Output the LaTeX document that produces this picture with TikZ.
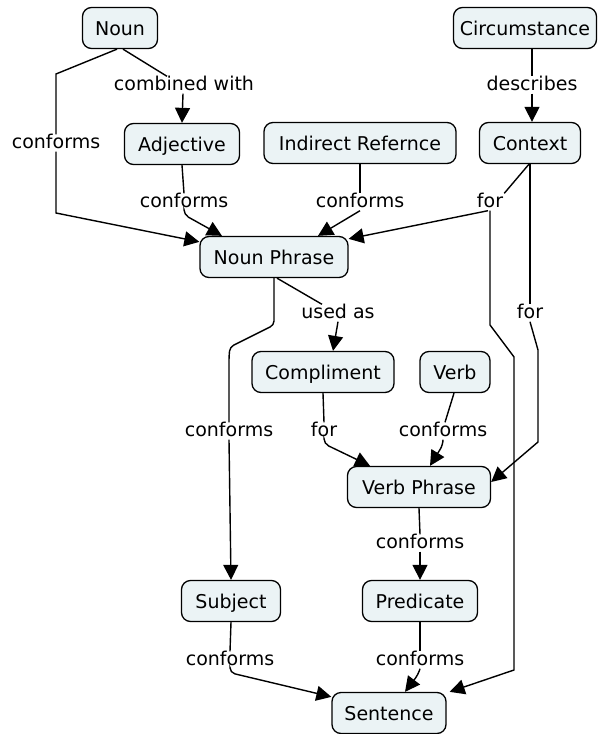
\documentclass[tikz,border=0pt]{standalone}
\usepackage{fontspec}
\setmainfont{DejaVu Sans}
\usetikzlibrary{arrows.meta}
\definecolor{cfill}{RGB}{235,243,245}
\begin{document}
\begin{tikzpicture}[x=1pt,y=-1pt,
  concept/.style={draw=black, line width=1.3pt, fill=cfill, rounded corners=9pt,
    minimum height=41pt, inner sep=0pt, text height=15pt, text depth=0pt,
    font=\fontsize{19}{22}\selectfont},
  lab/.style={fill=white, inner sep=1pt, text height=13pt, text depth=2pt,
    font=\fontsize{19}{22}\selectfont},
  link/.style={line width=1.4pt},
  arr/.style={link, -{Triangle[length=15pt,width=15pt]}}]
\useasboundingbox (0,0) rectangle (602,734);
% concepts
\node[concept, minimum width=75pt] (noun) at (120,28) {Noun};
\node[concept, minimum width=143pt] (circ) at (525,28) {Circumstance};
\node[concept, minimum width=115pt] (adj) at (182,144) {Adjective};
\node[concept, minimum width=192pt] (ind) at (360,143) {Indirect Refernce};
\node[concept, minimum width=101pt] (ctx) at (530,143) {Context};
\node[concept, minimum width=148pt] (np) at (274,257) {Noun Phrase};
\node[concept, minimum width=142pt] (comp) at (323,372) {Compliment};
\node[concept, minimum width=70pt] (verb) at (455,372) {Verb};
\node[concept, minimum width=143pt] (vp) at (419,487) {Verb Phrase};
\node[concept, minimum width=99pt] (subj) at (231,601) {Subject};
\node[concept, minimum width=115pt] (pred) at (420,601) {Predicate};
\node[concept, minimum width=114pt] (sent) at (389,713) {Sentence};
% linking phrases
\node[lab] (l1) at (56,143) {conforms};
\node[lab] (l2) at (184,85) {combined with};
\node[lab] (l3) at (184,202) {conforms};
\node[lab] (l4) at (360,202) {conforms};
\node[lab] (l5) at (532,85) {describes};
\node[lab] (l6) at (490,202) {for};
\node[lab] (l7) at (530,313) {for};
\node[lab] (l8) at (338,313) {used as};
\node[lab] (l9) at (229,431) {conforms};
\node[lab] (l10) at (324,431) {for};
\node[lab] (l11) at (443,431) {conforms};
\node[lab] (l12) at (420,543) {conforms};
\node[lab] (l13) at (230,660) {conforms};
\node[lab] (l14) at (420,660) {conforms};
% connectors
\draw[link] ([xshift=-3pt]noun.south) -- (56,74) -- (l1.north);
\draw[arr] (l1.south) -- (56,213) -- ([yshift=-6pt]np.north west);
\draw[link] ([xshift=3pt]noun.south) -- ([xshift=-17pt]l2.north);
\draw[arr] ([xshift=-1pt]l2.south) -- (adj.north);
\draw[link] (adj.south) -- (l3.north);
\draw[arr, rounded corners=5pt] (l3.south) -- ([yshift=-4pt]l3.south) -- ([xshift=-52pt]np.north);
\draw[link] (ind.south) -- (l4.north);
\draw[arr] (l4.south) -- ([xshift=44pt]np.north);
\draw[link] ([xshift=7pt]circ.south) -- (l5.north);
\draw[arr] (l5.south) -- (l5.south |- ctx.north);
\draw[link] ([xshift=-1pt]ctx.south) -- (l6.north east);
\draw[arr] ([xshift=-2pt]l6.south) -- ([yshift=-3pt]np.north east);
\draw[arr] (l6.south) -- (490,325) -- (514,357) -- (514,670) -- ([xshift=3pt]sent.north east);
\draw[link] (ctx.south) -- (l7.north);
\draw[arr] (l7.south) -- (538,350) -- (538,442) -- ([yshift=5pt]vp.east);
\draw[link, rounded corners=4pt] (np.south) -- (274,325) -- (230,347) -- (229,356) -- (l9.north);
\draw[arr] (l9.south) -- (subj.north);
\draw[link] ([xshift=3pt]np.south) -- ([xshift=-16pt]l8.north);
\draw[arr] (l8.south) -- ([xshift=10pt]comp.north);
\draw[link] (comp.south) -- (l10.north);
\draw[arr, rounded corners=5pt] (l10.south) -- ([yshift=-4pt]l10.south) -- ([xshift=-49pt]vp.north);
\draw[link] ([xshift=-1pt]verb.south) -- ([xshift=2pt]l11.north);
\draw[arr, rounded corners=5pt] (l11.south) -- ([yshift=-5pt]l11.south) -- ([xshift=11pt]vp.north);
\draw[link] (vp.south) -- (l12.north);
\draw[arr] (l12.south) -- (pred.north);
\draw[link] (subj.south) -- (l13.north);
\draw[arr, rounded corners=5pt] (l13.south) -- ([yshift=-4pt]l13.south) -- ([yshift=-5pt]sent.north west);
\draw[link] (pred.south) -- (l14.north);
\draw[arr, rounded corners=4pt] (l14.south) -- ([xshift=-2pt,yshift=-6pt]l14.south) -- ([xshift=16pt]sent.north);
\end{tikzpicture}
\end{document}
